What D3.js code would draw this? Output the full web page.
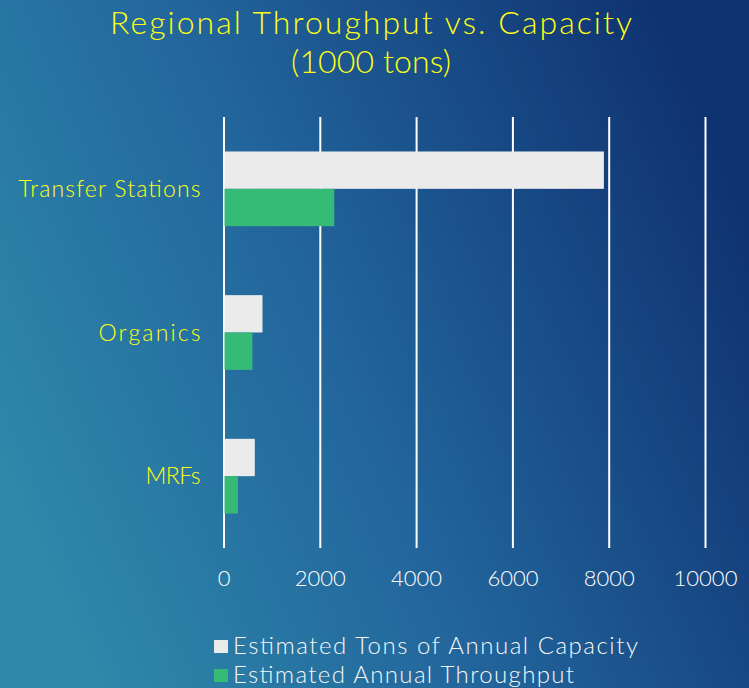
<!DOCTYPE html>
<html>
<head>
<meta charset="utf-8">
<script src="https://cdn.jsdelivr.net/npm/d3@7"></script>
<style>
  body { margin: 0; }
  svg { display: block; }
</style>
</head>
<body>
<div id="wrapper"></div>
<script>
// data
const categories = ["Transfer Stations", "Organics", "MRFs"]
const seriesNames = ["Estimated Tons of Annual Capacity", "Estimated Annual Throughput"]
const capacity = [7900, 810, 650]
const throughput = [2300, 600, 300]
const xTicks = [0, 2000, 4000, 6000, 8000, 10000]
const titleLines = ["Regional Throughput vs. Capacity", "(1000 tons)"]

const colors = ["#ebebeb", "#36bb77"]
const font = "'Century Gothic', 'Lato', 'Open Sans', sans-serif"
const yellow = "#ffff14"

// measured text widths so the narrower face lines up
const titleWidths = [522, 160]
const catWidths = [182, 102, 55]
const legendWidths = [405, 341]

const dimensions = {
    width: 749,
    height: 688,
    margins: { top: 117, right: 44, bottom: 140, left: 223.5 },
}
dimensions.boundedWidth = 705 - dimensions.margins.left
dimensions.boundedHeight = 548 - dimensions.margins.top

const wrapper = d3.select("#wrapper")
  .append("svg")
    .attr("width", dimensions.width)
    .attr("height", dimensions.height)

// background gradient
const defs = wrapper.append("defs")
const grad = defs.append("linearGradient")
    .attr("id", "bg")
    .attr("x1", "0").attr("y1", "0.7")
    .attr("x2", "1").attr("y2", "0.3")
grad.append("stop").attr("offset", "0%").attr("stop-color", "#2e89aa")
grad.append("stop").attr("offset", "45%").attr("stop-color", "#22659c")
grad.append("stop").attr("offset", "100%").attr("stop-color", "#0f3270")

wrapper.append("rect")
    .attr("width", dimensions.width)
    .attr("height", dimensions.height)
    .attr("fill", "url(#bg)")

// title
wrapper.append("g")
  .selectAll("text")
  .data(titleLines)
  .join("text")
    .attr("x", 371)
    .attr("y", (d, i) => 34 + i * 39)
    .attr("text-anchor", "middle")
    .attr("fill", yellow)
    .attr("textLength", (d, i) => titleWidths[i])
    .attr("lengthAdjust", "spacing")
    .style("font-family", font)
    .style("font-weight", 300)
    .style("font-size", "32px")
    .text(d => d)

const bounds = wrapper.append("g")
    .attr("transform", `translate(${dimensions.margins.left},${dimensions.margins.top})`)

// scales
const xScale = d3.scaleLinear()
    .domain([0, 10000])
    .range([0, dimensions.boundedWidth])

const yScale = d3.scaleBand()
    .domain(categories)
    .range([0, dimensions.boundedHeight])
    .paddingInner(0.48)
    .paddingOuter(0.24)

const subScale = d3.scaleBand()
    .domain([0, 1])
    .range([0, yScale.bandwidth()])

// grid
const xAxis = bounds.append("g")
    .attr("transform", `translate(0,${dimensions.boundedHeight})`)
    .call(d3.axisBottom(xScale)
        .tickValues(xTicks)
        .tickFormat(d3.format("d"))
        .tickSize(-dimensions.boundedHeight)
        .tickPadding(22))
xAxis.select(".domain").remove()
xAxis.selectAll("line")
    .attr("stroke", "#ffffff")
    .attr("stroke-width", 2)
xAxis.selectAll("text")
    .attr("fill", "#ffffff")
    .style("font-family", font)
    .style("font-weight", 300)
    .style("font-size", "22px")

// bars
const rows = categories.map((c, i) => ({ category: c, values: [capacity[i], throughput[i]] }))

const groups = bounds.append("g")
  .selectAll("g")
  .data(rows)
  .join("g")
    .attr("transform", d => `translate(0,${yScale(d.category)})`)

groups.selectAll("rect")
  .data(d => d.values)
  .join("rect")
    .attr("x", xScale(0) + 1)
    .attr("y", (d, i) => subScale(i))
    .attr("width", d => xScale(d) - xScale(0) - 1)
    .attr("height", subScale.bandwidth())
    .attr("fill", (d, i) => colors[i])

// category labels
bounds.append("g")
  .selectAll("text")
  .data(categories)
  .join("text")
    .attr("x", -23)
    .attr("y", d => yScale(d) + yScale.bandwidth() / 2)
    .attr("dy", "0.36em")
    .attr("text-anchor", "end")
    .attr("fill", yellow)
    .attr("textLength", (d, i) => catWidths[i])
    .attr("lengthAdjust", "spacing")
    .style("font-family", font)
    .style("font-weight", 300)
    .style("font-size", "23px")
    .text(d => d)

// legend
const legend = wrapper.append("g")
  .selectAll("g")
  .data(seriesNames)
  .join("g")
    .attr("transform", (d, i) => `translate(214,${647 + i * 29})`)

legend.append("rect")
    .attr("x", 0)
    .attr("y", -7)
    .attr("width", 14)
    .attr("height", 13)
    .attr("fill", (d, i) => colors[i])

legend.append("text")
    .attr("x", 19)
    .attr("y", 7)
    .attr("fill", "#f7f7f7")
    .attr("textLength", (d, i) => legendWidths[i])
    .attr("lengthAdjust", "spacing")
    .style("font-family", font)
    .style("font-weight", 300)
    .style("font-size", "24px")
    .text(d => d)
</script>
</body>
</html>
